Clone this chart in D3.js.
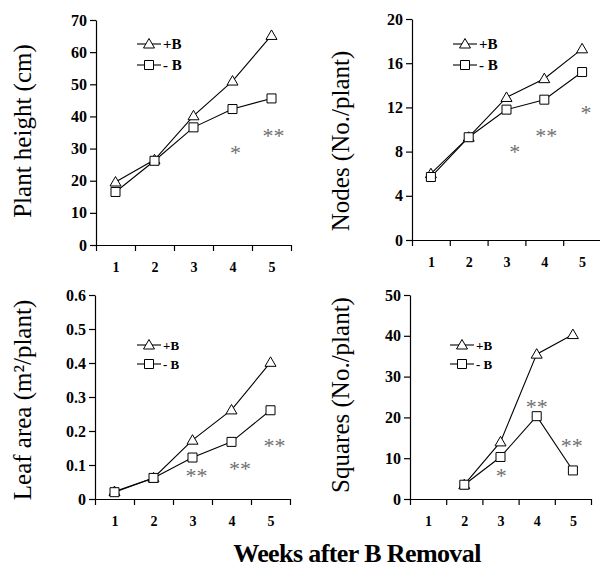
<!DOCTYPE html>
<html>
<head>
<meta charset="utf-8">
<script src="https://cdn.jsdelivr.net/npm/d3@7"></script>
<style>
  body { margin: 0; background: #fff; }
  svg { display: block; }
  .axis path, .axis line { stroke: #000; stroke-width: 1.2; }
  .axis text { font-family: "Liberation Serif", serif; font-weight: bold; fill: #000; }
</style>
</head>
<body>
<div id="chartArea"></div>
<script>
// data setup
var weeks = [1, 2, 3, 4, 5];

var heightPlusB = [19.6, 26.5, 40.2, 51.0, 65.2];
var heightMinusB = [16.5, 26.2, 36.6, 42.3, 45.6];

var nodesPlusB = [6.0, 9.3, 12.9, 14.6, 17.3];
var nodesMinusB = [5.7, 9.3, 11.8, 12.7, 15.2];

var leafPlusB = [0.022, 0.062, 0.173, 0.262, 0.402];
var leafMinusB = [0.020, 0.062, 0.122, 0.168, 0.261];

var squaresPlusB = [null, 3.5, 14.0, 35.5, 40.3];
var squaresMinusB = [null, 3.5, 10.3, 20.3, 7.0];

var heightTicks = [0, 10, 20, 30, 40, 50, 60, 70];
var nodesTicks = [0, 4, 8, 12, 16, 20];
var leafTicks = [0, 0.1, 0.2, 0.3, 0.4, 0.5, 0.6];
var squaresTicks = [0, 10, 20, 30, 40, 50];

// significance marks: [week position, value, text]
var heightSig = [[4.08, 29.5, "*"], [5.05, 35, "**"]];
var nodesSig = [[3.22, 8.2, "*"], [4.05, 9.7, "**"], [5.1, 11.8, "*"]];
var leafSig = [[3.1, 0.076, "**"], [4.22, 0.097, "**"], [5.1, 0.166, "**"]];
var squaresSig = [[3.02, 6.4, "*"], [4.0, 23.3, "**"], [4.97, 13.7, "**"]];

var seriesNames = ["+B", "- B"];

var svg = d3.select("#chartArea").append("svg")
  .attr("width", 600)
  .attr("height", 569);

var panels = [
  { plus: heightPlusB, minus: heightMinusB, ticks: heightTicks, fmt: d3.format("d"), sig: heightSig,
    title: "Plant height (cm)", x0: 96, x1: 291, y0: 245, y1: 20, tx: 31, ty: 131, lx: 137, ly: 44, lgap: 21, lfs: 15 },
  { plus: nodesPlusB, minus: nodesMinusB, ticks: nodesTicks, fmt: d3.format("d"), sig: nodesSig,
    title: "Nodes (No./plant)", x0: 412, x1: 601, y0: 240, y1: 19, tx: 349, ty: 141, lx: 453, ly: 44, lgap: 21, lfs: 15 },
  { plus: leafPlusB, minus: leafMinusB, ticks: leafTicks, fmt: function(d) { return d === 0 ? "0" : d3.format(".1f")(d); }, sig: leafSig,
    title: "Leaf area (m²/plant)", x0: 95, x1: 290, y0: 499, y1: 295, tx: 31, ty: 400, lx: 137, ly: 345, lgap: 19, lfs: 13 },
  { plus: squaresPlusB, minus: squaresMinusB, ticks: squaresTicks, fmt: d3.format("d"), sig: squaresSig,
    title: "Squares (No./plant)", x0: 410, x1: 591, y0: 499, y1: 295, tx: 349, ty: 395, lx: 450, ly: 345, lgap: 19, lfs: 13 }
];

var triPath = "M0,-5.5L5.5,4L-5.5,4Z";
var sqPath = "M-4.5,-4.5h9v9h-9Z";

panels.forEach(function(p) {
  var g = svg.append("g");

  var x = d3.scaleLinear().domain([0.5, 5.5]).range([p.x0, p.x1]);
  var y = d3.scaleLinear().domain([0, d3.max(p.ticks)]).range([p.y0, p.y1]);

  // x axis: tick marks at band edges, labels at week centres
  g.append("g")
    .attr("class", "axis")
    .attr("transform", "translate(0," + p.y0 + ")")
    .call(d3.axisBottom(x).tickValues([0.5, 1.5, 2.5, 3.5, 4.5, 5.5]).tickSize(6).tickSizeOuter(0).tickFormat(""));

  g.append("g")
    .attr("class", "axis")
    .attr("transform", "translate(0," + p.y0 + ")")
    .call(d3.axisBottom(x).tickValues(weeks).tickSize(0).tickPadding(17).tickFormat(d3.format("d")))
    .call(function(a) { a.select(".domain").remove(); })
    .selectAll("text").attr("font-size", 14);

  // y axis
  g.append("g")
    .attr("class", "axis")
    .attr("transform", "translate(" + p.x0 + ",0)")
    .call(d3.axisLeft(y).tickValues(p.ticks).tickSize(6).tickSizeOuter(0).tickPadding(3).tickFormat(p.fmt))
    .selectAll("text").attr("font-size", 16);

  // y title
  g.append("text")
    .attr("transform", "translate(" + p.tx + "," + p.ty + ") rotate(-90)")
    .attr("text-anchor", "middle")
    .attr("font-family", "Liberation Serif, serif")
    .attr("font-size", 25)
    .text(p.title);

  var pts = function(vals) {
    return weeks.map(function(w, i) { return { w: w, v: vals[i] }; })
      .filter(function(d) { return d.v !== null; });
  };

  var line = d3.line()
    .x(function(d) { return x(d.w); })
    .y(function(d) { return y(d.v); });

  [p.plus, p.minus].forEach(function(vals) {
    g.append("path")
      .datum(pts(vals))
      .attr("fill", "none")
      .attr("stroke", "#000")
      .attr("stroke-width", 1.1)
      .attr("d", line);
  });

  [p.plus, p.minus].forEach(function(vals, si) {
    g.selectAll(null)
      .data(pts(vals))
      .enter()
      .append("path")
      .attr("transform", function(d) { return "translate(" + x(d.w) + "," + y(d.v) + ")"; })
      .attr("d", si === 0 ? triPath : sqPath)
      .attr("fill", "#fff")
      .attr("stroke", "#000")
      .attr("stroke-width", 1);
  });

  // significance stars
  g.selectAll(null)
    .data(p.sig)
    .enter()
    .append("text")
    .attr("x", function(d) { return x(d[0]); })
    .attr("y", function(d) { return y(d[1]) + 10; })
    .attr("text-anchor", "middle")
    .attr("font-family", "Liberation Serif, serif")
    .attr("font-size", 22)
    .attr("fill", "#707070")
    .text(function(d) { return d[2]; });

  // legend
  seriesNames.forEach(function(name, si) {
    var ly = p.ly + si * p.lgap;
    g.append("line")
      .attr("x1", p.lx).attr("x2", p.lx + 24)
      .attr("y1", ly).attr("y2", ly)
      .attr("stroke", "#000").attr("stroke-width", 1.1);
    g.append("path")
      .attr("transform", "translate(" + (p.lx + 12) + "," + ly + ")")
      .attr("d", si === 0 ? triPath : sqPath)
      .attr("fill", "#fff").attr("stroke", "#000");
    g.append("text")
      .attr("x", p.lx + 26)
      .attr("y", ly + p.lfs * 0.35)
      .attr("font-family", "Liberation Serif, serif")
      .attr("font-weight", "bold")
      .attr("font-size", p.lfs)
      .text(name);
  });
});

// common x title
svg.append("text")
  .attr("x", 357)
  .attr("y", 562)
  .attr("text-anchor", "middle")
  .attr("font-family", "Liberation Serif, serif")
  .attr("font-weight", "bold")
  .attr("font-size", 26)
  .attr("letter-spacing", -0.6)
  .text("Weeks after B Removal");
</script>
</body>
</html>
